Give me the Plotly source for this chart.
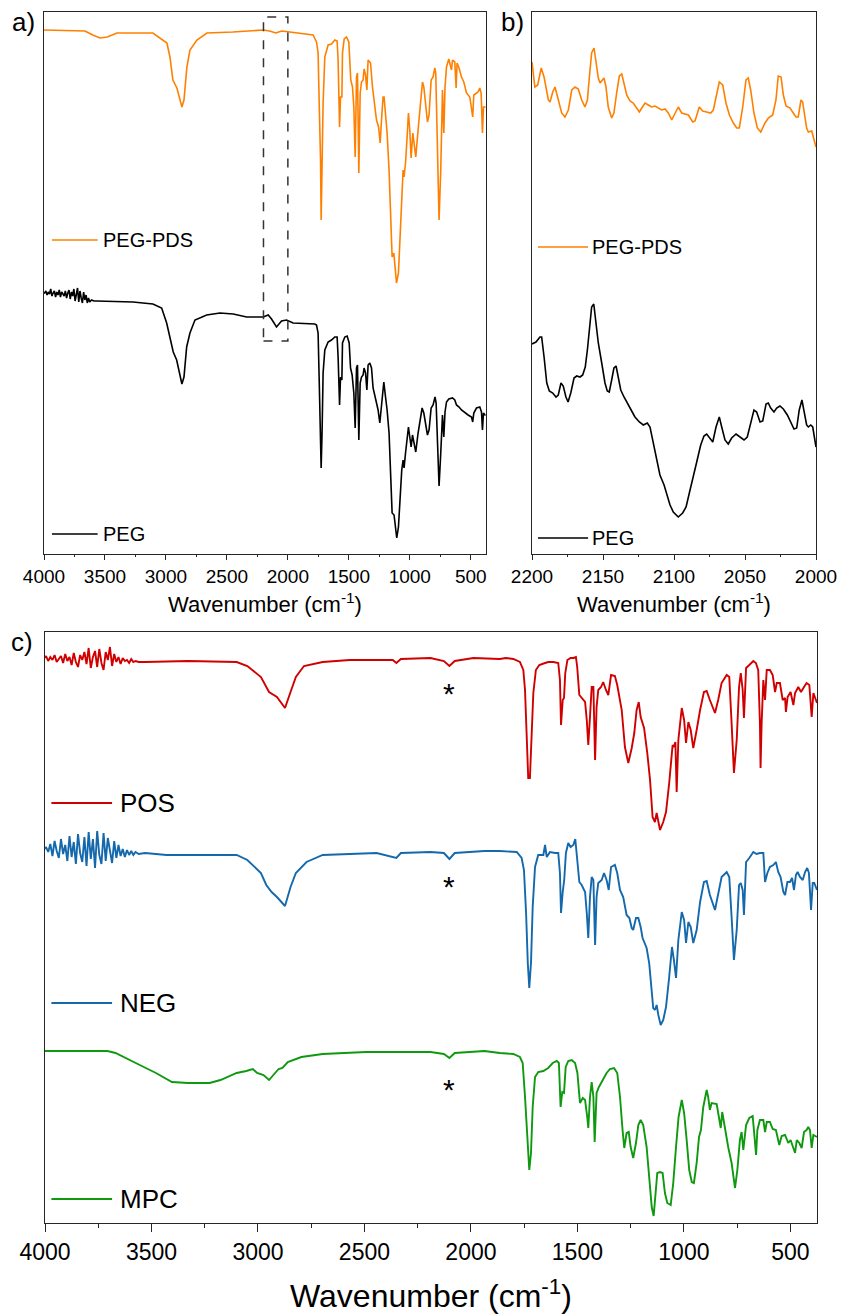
import plotly.graph_objects as go

# ---------------- Panel a: full FTIR spectra (a.u.) ----------------
peg_pds_wn = [4000, 3664, 3600, 3541, 3480, 3402, 3107, 3049, 2992, 2967, 2943, 2910, 2869, 2852, 2828, 2803, 2746,
              2664, 2451, 2205, 2150, 2100, 2050, 1984, 1902, 1793, 1765, 1752, 1743, 1732, 1727, 1719,
              1711, 1697, 1670, 1642, 1615, 1596, 1588, 1576, 1568, 1557, 1552, 1538, 1519, 1500, 1492,
              1484, 1470, 1459, 1448, 1437, 1429, 1418, 1407, 1396, 1383, 1375, 1363, 1352, 1342, 1322,
              1306, 1295, 1273, 1256, 1243, 1232, 1219, 1211, 1197, 1186, 1170, 1158, 1145, 1131, 1123,
              1109, 1093, 1079, 1066, 1055, 1047, 1035, 1022, 1011, 1000, 989, 975, 965, 951, 932,
              912, 896, 885, 869, 855, 842, 825, 809, 795, 787, 776, 760, 746, 732, 721,
              711, 699, 680, 658, 650, 631, 620, 612, 596, 576, 557, 535, 508, 484, 475,
              440, 426, 415, 404, 396, 383, 378]
peg_pds_t = [524, 523, 519, 516, 517, 521, 521, 516, 511, 497, 474, 466, 447, 454, 487, 504, 514,
             521, 522, 524, 523, 521, 523, 522, 521, 519, 512, 501, 451, 394, 334, 384,
             451, 497, 509, 510, 514, 513, 494, 427, 457, 457, 501, 515, 517, 512, 497,
             474, 467, 447, 397, 477, 481, 381, 461, 472, 474, 485, 479, 464, 494, 491,
             467, 454, 434, 427, 411, 434, 457, 457, 434, 421, 384, 347, 297, 301, 291,
             271, 281, 317, 351, 384, 377, 391, 417, 441, 424, 396, 421, 411, 397, 424,
             451, 472, 467, 444, 432, 439, 474, 477, 486, 481, 417, 334, 384, 464, 421,
             467, 487, 495, 484, 494, 492, 466, 491, 486, 477, 472, 461, 457, 437, 459,
             462, 466, 461, 421, 447, 447, 447]

peg_wn = [4000, 3995, 3985, 3975, 3965, 3955, 3945, 3935, 3925, 3915, 3905, 3895, 3885, 3875, 3865,
          3855, 3845, 3835, 3825, 3815, 3805, 3795, 3785, 3775, 3765, 3755, 3745, 3735, 3725, 3715,
          3705, 3695, 3685, 3675, 3665, 3655, 3645, 3635, 3625, 3610, 3590,
          3568, 3270, 3107, 3035, 2994, 2961, 2940, 2912, 2869, 2852, 2830, 2803, 2762, 2666, 2557,
          2448, 2338, 2202, 2161, 2134, 2093, 2052, 2011, 1957, 1779, 1765, 1752, 1743, 1732, 1727,
          1719, 1711, 1697, 1670, 1642, 1615, 1596, 1588, 1576, 1568, 1557, 1552, 1533, 1514, 1497,
          1486, 1473, 1459, 1448, 1437, 1429, 1418, 1407, 1396, 1383, 1375, 1363, 1352, 1342, 1328,
          1314, 1301, 1273, 1260, 1246, 1232, 1213, 1199, 1186, 1170, 1158, 1145, 1129, 1117, 1107,
          1093, 1079, 1066, 1055, 1047, 1035, 1022, 1011, 1000, 989, 978, 965, 951, 932, 912,
          899, 885, 869, 855, 842, 825, 809, 793, 784, 773, 760, 746, 732, 721, 711,
          699, 680, 650, 631, 617, 596, 576, 549, 522, 494, 484, 475, 453, 426, 412,
          404, 396, 383, 378]
peg_t = [261, 261, 263, 259, 262, 260, 265, 258, 261, 263, 257, 262, 259, 264, 257,
         262, 260, 258, 263, 256, 261, 264, 255, 262, 258, 265, 253, 261, 266, 252,
         263, 256, 251, 262, 254, 259, 251, 256, 252, 254, 253,
         253, 252, 250, 246, 231, 211, 202, 194, 170, 177, 207, 221, 234, 239, 241,
         240, 237, 237, 239, 235, 227, 233, 234, 231, 230, 229, 221, 174, 124, 86,
         124, 181, 204, 212, 214, 217, 217, 197, 149, 177, 174, 211, 217, 218, 211,
         186, 179, 161, 126, 186, 189, 114, 171, 177, 179, 186, 181, 164, 189, 191,
         186, 166, 151, 144, 131, 151, 172, 157, 144, 121, 87, 41, 39, 27, 16,
         27, 57, 84, 94, 86, 101, 117, 127, 117, 107, 119, 111, 102, 121, 137,
         146, 141, 127, 119, 124, 146, 149, 157, 151, 107, 68, 101, 139, 117, 142,
         152, 155, 156, 154, 149, 147, 144, 141, 139, 137, 132, 141, 146, 147, 142,
         124, 141, 139, 139]

# ---------------- Panel b: 2200-2000 cm-1 detail (a.u.) ----------------
peg_pds_b_wn = [2200, 2199, 2198, 2196, 2193.5, 2191.5, 2188.5, 2187.3, 2185.4, 2183.8, 2182.2, 2179.1, 2176.8,
                2174.4, 2172, 2169.7, 2167.4, 2165, 2162.7, 2161, 2159.6, 2158, 2156.3, 2154.9, 2153.3,
                2152.1, 2150.7, 2149.3, 2147.9, 2146.3, 2143.9, 2142.3, 2140.4, 2138.5, 2136.8, 2135.2,
                2133.3, 2131, 2128.7, 2126.3, 2124.4, 2122.7, 2120.4, 2118.1, 2115.7, 2113.4, 2111,
                2108.7, 2106.3, 2104, 2101.6, 2100, 2097, 2094.6, 2092.3, 2089.9, 2086.8, 2085.2,
                2082.2, 2079.8, 2077, 2074.2, 2072.3, 2070.4, 2068.1, 2065.7, 2063.4, 2061, 2058.2,
                2055.8, 2054, 2051.6, 2049.3, 2047.7, 2046, 2043.7, 2041.3, 2038.9, 2035.9, 2033.6,
                2030.5, 2028.2, 2026.6, 2024.6, 2023, 2021.1, 2018.3, 2016, 2014.1, 2012.5, 2010.6,
                2009.4, 2008.2, 2006.6, 2005.4, 2003, 2001.9, 2000]
peg_pds_b_t = [492, 477, 467, 469, 486, 477, 454, 452, 462, 467, 457, 441, 437,
               444, 464, 467, 465, 454, 447, 454, 477, 501, 506, 491, 476,
               471, 474, 476, 467, 447, 436, 441, 461, 478, 480, 471,
               459, 453, 451, 446, 442, 446, 451, 449, 447, 448, 446,
               444, 445, 441, 434, 439, 447, 441, 440, 439, 432, 433,
               447, 443, 442, 441, 444, 457, 472, 469, 451, 439, 431,
               426, 426, 447, 474, 476, 464, 441, 426, 422, 431, 436,
               439, 454, 478, 477, 459, 448, 446, 441, 437, 437, 454,
               452, 441, 426, 422, 423, 417, 407]

peg_b_wn = [2200, 2197.2, 2194.4, 2193.2, 2191.5, 2189.6, 2187.8, 2185.4, 2183.1, 2181.5, 2179.6, 2178,
            2176.1, 2174.6, 2172.7, 2170.4, 2168.5, 2166.2, 2164.3, 2162.5, 2161, 2159.6, 2158, 2156.5,
            2154.9, 2153.3, 2150.9, 2148.6, 2147, 2145.6, 2143.9, 2142.3, 2140.8, 2139.2, 2137.5,
            2135.2, 2132.2, 2129.8, 2127.5, 2124.4, 2121.6, 2118.8, 2116.9, 2114.6, 2112.2, 2109.9,
            2107, 2105.1, 2102.8, 2100.5, 2097, 2093.9, 2091.5, 2089.2, 2086.8, 2084, 2081.2,
            2078.9, 2077, 2074.6, 2072.7, 2070.4, 2068.1, 2066.4, 2064.1, 2061.8, 2059.4, 2056.3,
            2053.5, 2050.7, 2048.4, 2046, 2043.7, 2041.8, 2039.4, 2037.5, 2035.2, 2033.6, 2031.9,
            2029.6, 2027.7, 2025.4, 2023, 2020.2, 2017.8, 2015.5, 2013.6, 2011.8, 2009.9, 2008.5,
            2006.6, 2005.4, 2003.7, 2002.3, 2000]
peg_b_t = [210, 212, 217, 217, 197, 171, 163, 161, 157, 159, 171, 168,
           157, 152, 161, 176, 178, 177, 179, 187, 204, 227, 247, 250,
           231, 211, 191, 171, 163, 162, 174, 186, 188, 177, 164,
           157, 150, 143, 137, 132, 129, 131, 127, 111, 94, 79,
           69, 59, 49, 42, 37, 41, 47, 61, 74, 92, 109,
           118, 120, 115, 112, 127, 137, 127, 114, 110, 116, 120,
           117, 114, 117, 131, 144, 142, 132, 133, 150, 151, 146,
           142, 146, 148, 145, 139, 131, 125, 126, 144, 154, 144,
           129, 127, 129, 127, 107]

# ---------------- Panel c: POS / NEG / MPC spectra (a.u.) ----------------
pos_wn = [4000, 3995, 3985, 3975, 3965, 3955, 3945, 3935, 3925, 3915, 3905, 3895, 3885, 3875, 3865,
          3855, 3845, 3835, 3825, 3815, 3805, 3795, 3785, 3775, 3765, 3755, 3745, 3735, 3725, 3715,
          3705, 3695, 3685, 3675, 3665, 3655, 3645, 3635, 3625, 3615, 3605, 3595, 3585, 3575, 3560,
          3530, 3328, 3100, 3050, 2986, 2948, 2911, 2873, 2847, 2822, 2784, 2696, 2569, 2367, 2350,
          2329, 2190, 2127, 2101, 2076, 1988, 1864, 1836, 1801, 1770, 1754, 1746, 1738, 1731, 1723,
          1715, 1707, 1695, 1679, 1652, 1637, 1613, 1590, 1582, 1577, 1569, 1563, 1557, 1547, 1532,
          1519, 1507, 1501, 1491, 1480, 1464, 1456, 1449, 1441, 1433, 1425, 1417, 1410, 1402, 1389,
          1379, 1366, 1355, 1342, 1324, 1313, 1292, 1277, 1261, 1245, 1233, 1222, 1212, 1203, 1187,
          1172, 1159, 1147, 1136, 1128, 1120, 1112, 1097, 1084, 1069, 1053, 1047, 1040, 1034, 1026,
          1010, 999, 990, 979, 968, 956, 940, 924, 906, 893, 878, 854, 839, 823, 799,
          787, 776, 765, 752, 741, 733, 724, 718, 708, 693, 674, 662, 651, 643, 640,
          635, 627, 619, 611, 596, 583, 572, 564, 549, 536, 525, 521, 513, 499, 486,
          478, 463, 450, 436, 424, 411, 400, 392, 384, 375]
pos_t = [565, 567, 562, 566, 563, 568, 561, 564, 567, 560, 569, 562, 566, 558, 570,
         561, 556, 568, 563, 571, 559, 575, 555, 566, 572, 556, 574, 560, 553, 571,
         563, 576, 557, 569, 561, 566, 559, 565, 562, 563, 560, 564, 561, 562, 561,
         561, 562, 561, 557, 546, 531, 526, 515, 531, 546, 557, 561, 563, 563, 560,
         564, 565, 562, 557, 562, 565, 564, 565, 564, 561, 553, 533, 483, 445, 445,
         483, 530, 553, 558, 560, 561, 561, 560, 543, 498, 523, 525, 550, 563, 565,
         565, 566, 556, 528, 525, 521, 503, 478, 506, 536, 536, 463, 516, 533, 536,
         541, 533, 528, 548, 547, 538, 513, 476, 460, 475, 490, 513, 521, 506, 495,
         470, 443, 406, 401, 410, 401, 393, 401, 411, 440, 478, 476, 481, 431, 483,
         515, 503, 480, 501, 493, 475, 493, 513, 531, 532, 523, 510, 523, 540, 548,
         546, 500, 450, 483, 536, 550, 533, 505, 555, 558, 562, 560, 553, 500, 455,
         500, 543, 523, 553, 553, 548, 531, 540, 540, 523, 525, 511, 526, 531, 518,
         530, 536, 531, 536, 540, 538, 506, 530, 525, 520]

neg_wn = [4000, 3995, 3985, 3975, 3965, 3955, 3945, 3935, 3925, 3915, 3905, 3895, 3885, 3875, 3865,
          3855, 3845, 3835, 3825, 3815, 3805, 3795, 3785, 3775, 3765, 3755, 3745, 3735, 3725, 3715,
          3705, 3695, 3685, 3675, 3665, 3655, 3645, 3635, 3625, 3615, 3605, 3595, 3585, 3575, 3560,
          3530, 3429, 3100, 3050, 2986, 2961, 2936, 2911, 2873, 2847, 2822, 2772, 2696, 2443, 2350,
          2329, 2190, 2127, 2101, 2076, 1937, 1864, 1785, 1762, 1751, 1741, 1733, 1726, 1718, 1710,
          1699, 1684, 1660, 1652, 1644, 1629, 1605, 1590, 1582, 1577, 1569, 1562, 1554, 1543, 1532,
          1519, 1510, 1501, 1491, 1480, 1464, 1456, 1449, 1441, 1433, 1425, 1417, 1410, 1402, 1386,
          1375, 1363, 1353, 1342, 1324, 1313, 1300, 1285, 1269, 1256, 1245, 1238, 1225, 1214, 1203,
          1194, 1175, 1163, 1151, 1144, 1136, 1128, 1120, 1109, 1097, 1084, 1069, 1056, 1047, 1037,
          1026, 1010, 999, 990, 979, 968, 956, 940, 924, 906, 893, 878, 854, 839, 823,
          799, 787, 776, 765, 752, 741, 733, 724, 718, 708, 693, 674, 659, 643, 627,
          619, 608, 596, 580, 568, 557, 546, 533, 525, 514, 502, 492, 483, 474, 466,
          455, 442, 431, 421, 413, 403, 395, 388, 375]
neg_t = [374, 376, 371, 379, 367, 382, 372, 365, 384, 369, 378, 362, 387, 366, 381,
         359, 389, 370, 361, 386, 357, 391, 364, 384, 355, 392, 368, 359, 390, 362,
         385, 370, 360, 382, 365, 378, 367, 374, 366, 373, 368, 372, 368, 371, 369,
         370, 368, 368, 363, 350, 338, 331, 326, 317, 336, 350, 361, 368, 370, 365,
         370, 371, 370, 364, 370, 372, 372, 371, 365, 353, 310, 260, 235, 260, 316,
         356, 368, 368, 378, 366, 371, 370, 370, 350, 310, 331, 343, 370, 380, 376,
         378, 384, 366, 341, 338, 331, 310, 285, 326, 346, 343, 278, 326, 340, 343,
         350, 343, 333, 356, 358, 350, 333, 326, 308, 305, 295, 293, 305, 305, 296,
         285, 275, 260, 236, 215, 213, 218, 208, 198, 203, 216, 246, 276, 263, 245,
         283, 311, 303, 280, 301, 296, 280, 293, 321, 341, 342, 328, 313, 331, 346,
         351, 346, 306, 263, 293, 338, 340, 333, 308, 361, 365, 371, 369, 370, 370,
         341, 350, 356, 358, 361, 351, 346, 331, 328, 341, 341, 345, 333, 348, 351,
         346, 343, 351, 355, 350, 313, 340, 340, 333]

mpc_wn = [4000, 3707, 3669, 3618, 3555, 3479, 3404, 3328, 3227, 3176, 3100, 3055, 3024, 3004, 2974,
          2948, 2923, 2903, 2885, 2860, 2796, 2696, 2493, 2341, 2190, 2127, 2101, 2076, 1937, 1864,
          1801, 1770, 1757, 1746, 1735, 1726, 1718, 1710, 1699, 1684, 1660, 1637, 1616, 1597, 1587,
          1579, 1571, 1563, 1555, 1543, 1527, 1511, 1500, 1488, 1475, 1464, 1454, 1449, 1441, 1433,
          1425, 1419, 1410, 1399, 1386, 1375, 1363, 1347, 1328, 1313, 1300, 1288, 1280, 1269, 1259,
          1250, 1238, 1225, 1214, 1203, 1191, 1175, 1163, 1151, 1142, 1134, 1125, 1112, 1100, 1089,
          1078, 1062, 1050, 1037, 1025, 1010, 999, 987, 975, 963, 953, 940, 929, 920, 909,
          893, 886, 878, 870, 846, 835, 827, 820, 807, 792, 776, 760, 749, 737, 729,
          721, 708, 693, 677, 666, 661, 655, 643, 627, 619, 611, 596, 583, 568, 552,
          541, 525, 510, 499, 486, 478, 470, 458, 447, 436, 424, 416, 408, 400, 392,
          380, 375]
mpc_t = [172, 172, 170, 165, 158, 150, 141, 140, 140, 143, 150, 152, 154, 150, 148,
         143, 149, 154, 155, 161, 166, 169, 171, 171, 171, 169, 165, 170, 172, 170,
         169, 166, 160, 126, 80, 53, 70, 116, 146, 151, 152, 155, 160, 162, 160,
         116, 131, 130, 156, 162, 163, 160, 150, 120, 125, 123, 106, 95, 126, 141,
         126, 81, 130, 136, 141, 146, 150, 154, 155, 150, 126, 93, 75, 90, 91,
         76, 65, 80, 98, 103, 98, 76, 46, 16, 7, 26, 50, 51, 50, 30,
         20, 18, 40, 76, 106, 123, 110, 83, 53, 41, 40, 60, 86, 93, 116,
         133, 126, 113, 120, 119, 106, 95, 111, 93, 76, 60, 35, 53, 83, 91,
         73, 98, 105, 107, 83, 68, 93, 103, 103, 91, 101, 101, 94, 93, 78,
         87, 88, 80, 83, 75, 70, 83, 80, 75, 91, 93, 96, 93, 75, 88,
         86, 86]

# legend labels and the level each one sits at
labels_a = ["PEG-PDS", "PEG"]
legend_a_t = [314, 20]
legend_b_t = [307, 16]
labels_c = ["POS", "NEG", "MPC"]
legend_c_t = [420, 220, 24]
star_wn = 2103
star_t = [536, 343, 140]

ORANGE = "#FF8000"
BLACK = "#000000"
RED = "#D10000"
BLUE = "#1468AC"
GREEN = "#0E990E"
FONT = "Liberation Sans, Arial, sans-serif"
AXC = "#262626"

fig = go.Figure()
fig.add_trace(go.Scatter(x=peg_pds_wn, y=peg_pds_t, mode="lines", line=dict(color=ORANGE, width=1.6),
                         xaxis="x", yaxis="y", showlegend=False))
fig.add_trace(go.Scatter(x=peg_wn, y=peg_t, mode="lines", line=dict(color=BLACK, width=1.6),
                         xaxis="x", yaxis="y", showlegend=False))
fig.add_trace(go.Scatter(x=peg_pds_b_wn, y=peg_pds_b_t, mode="lines", line=dict(color=ORANGE, width=1.6),
                         xaxis="x2", yaxis="y2", showlegend=False))
fig.add_trace(go.Scatter(x=peg_b_wn, y=peg_b_t, mode="lines", line=dict(color=BLACK, width=1.6),
                         xaxis="x2", yaxis="y2", showlegend=False))
fig.add_trace(go.Scatter(x=pos_wn, y=pos_t, mode="lines", line=dict(color=RED, width=1.9),
                         xaxis="x3", yaxis="y3", showlegend=False))
fig.add_trace(go.Scatter(x=neg_wn, y=neg_t, mode="lines", line=dict(color=BLUE, width=1.9),
                         xaxis="x3", yaxis="y3", showlegend=False))
fig.add_trace(go.Scatter(x=mpc_wn, y=mpc_t, mode="lines", line=dict(color=GREEN, width=1.9),
                         xaxis="x3", yaxis="y3", showlegend=False))

shapes = []
annotations = []

# legend samples: short line + label inside each panel
def legend_entry(xref, yref, x0, x1, xt, y, color, text, size, width):
    shapes.append(dict(type="line", xref=xref, yref=yref, x0=x0, x1=x1, y0=y, y1=y,
                       line=dict(color=color, width=width)))
    annotations.append(dict(xref=xref, yref=yref, x=xt, y=y, text=text, showarrow=False,
                            xanchor="left", yanchor="middle", xshift=-2,
                            font=dict(family=FONT, size=size, color="black")))

for lab, lv, col in zip(labels_a, legend_a_t, [ORANGE, BLACK]):
    legend_entry("x", "y", 3935, 3560, 3520, lv, col, lab, 20, 1.6)
for lab, lv, col in zip(labels_a, legend_b_t, [ORANGE, BLACK]):
    legend_entry("x2", "y2", 2195.8, 2160.5, 2157.5, lv, col, lab, 20, 1.6)
for lab, lv, col in zip(labels_c, legend_c_t, [RED, BLUE, GREEN]):
    legend_entry("x3", "y3", 3970, 3685, 3650, lv, col, lab, 26, 1.9)

# dashed box marking the 2200-2000 cm-1 window
shapes.append(dict(type="rect", xref="x", yref="y", x0=2200, x1=2000, y0=213, y1=537,
                   line=dict(color="#333333", width=1.5, dash="dash")))

for lv in star_t:
    annotations.append(dict(xref="x3", yref="y3", x=star_wn, y=lv, text="*", showarrow=False,
                            yanchor="middle", yshift=-6, font=dict(family=FONT, size=30, color="black")))

for txt, x, yc in [("a)", 10, 22), ("b)", 499, 22), ("c)", 9, 642)]:
    annotations.append(dict(xref="paper", yref="paper", x=x / 844, y=1 - yc / 1314, text=txt,
                            showarrow=False, xanchor="left", yanchor="middle",
                            font=dict(family=FONT, size=26, color="black")))

def xaxis_style(rng, dtick, minor_dtick, domain, anchor, tick_size, title_size, ticklen, standoff):
    return dict(range=rng, domain=domain, anchor=anchor, dtick=dtick, tick0=0, automargin=False,
                showline=True, mirror=True, linecolor=AXC, linewidth=1.3,
                ticks="outside", ticklen=ticklen, tickwidth=1.2, tickcolor=AXC,
                minor=dict(ticks="outside", ticklen=max(2, ticklen // 2), dtick=minor_dtick, tickcolor=AXC, tickwidth=1.2),
                showgrid=False, zeroline=False,
                tickfont=dict(family=FONT, size=tick_size, color="black"),
                title=dict(text="Wavenumber (cm<sup>-1</sup>)", standoff=standoff,
                           font=dict(family=FONT, size=title_size, color="black")))

def yaxis_style(rng, domain, anchor):
    return dict(range=rng, domain=domain, anchor=anchor, showline=True, mirror=True, automargin=False,
                linecolor=AXC, linewidth=1.3, ticks="", showticklabels=False,
                showgrid=False, zeroline=False)

top_dom = [1 - 554 / 1314, 1 - 12 / 1314]
fig.update_layout(
    width=844, height=1314, margin=dict(l=0, r=0, t=0, b=0, autoexpand=False),
    paper_bgcolor="white", plot_bgcolor="white", showlegend=False,
    xaxis=xaxis_style([4000, 375], 500, 250, [44 / 844, 486 / 844], "y", 19, 22, 5, 10),
    yaxis=yaxis_style([0, 542], top_dom, "x"),
    xaxis2=xaxis_style([2200, 2000], 50, 25, [532 / 844, 816 / 844], "y2", 19, 22, 5, 10),
    yaxis2=yaxis_style([0, 542], top_dom, "x2"),
    xaxis3=xaxis_style([4000, 375], 500, 250, [45 / 844, 817 / 844], "y3", 23, 32, 8, 21),
    yaxis3=yaxis_style([0, 591], [1 - 1223 / 1314, 1 - 632 / 1314], "x3"),
    shapes=shapes, annotations=annotations,
)

fig.write_html("out.html")
